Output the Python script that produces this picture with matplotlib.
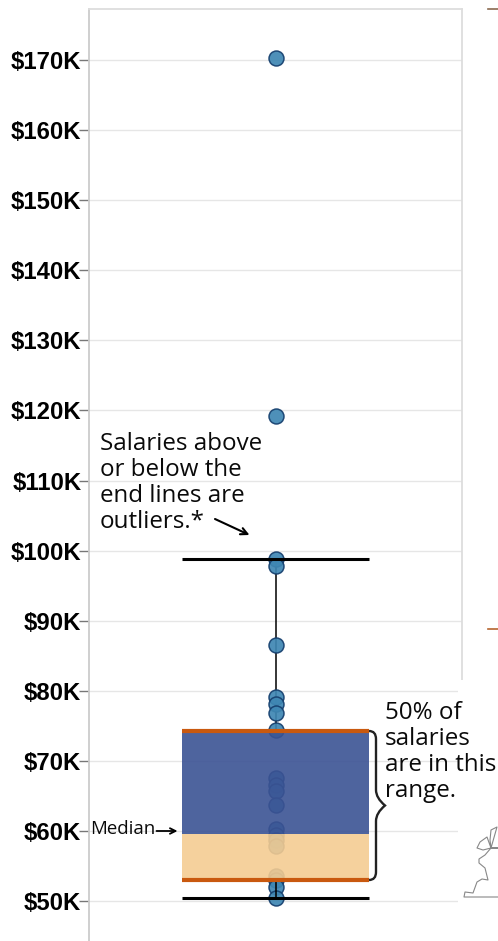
import matplotlib
matplotlib.use('Agg')
import matplotlib.pyplot as plt
from matplotlib.path import Path
from matplotlib.patches import PathPatch, Rectangle

# salaries in $K
salaries = [170.2, 119.2, 98.8, 97.85, 86.5, 79.2, 78.1, 76.9, 74.4, 67.6, 66.6, 65.7,
            63.7, 60.4, 59.5, 58.8, 57.9, 53.7, 53.0, 52.1, 50.5]
q1 = 53.0
median = 59.6
q3 = 74.3
whisker_low = 50.5
whisker_high = 98.8
ticks = [50, 60, 70, 80, 90, 100, 110, 120, 130, 140, 150, 160, 170]

# bits of the neighbouring panel that show at the right edge (pixels)
map_x = [498, 464, 465, 473, 477, 482, 488, 485, 479, 479, 485, 491, 498, 491, 490, 491, 497, 491, 487, 480, 477, 483, 491]
map_y = [897, 897, 892, 893, 882, 879, 880, 868, 863, 859, 855, 848, 848, 848, 840, 830, 827, 848, 837, 842, 848, 850, 848]

W, H = 498, 941
fig = plt.figure(figsize=(W / 100, H / 100), dpi=100)
ax = fig.add_axes([89 / W, 0, (462 - 89) / W, (941 - 9) / H])
ax.set_xlim(-1, 1)
ax.set_ylim(44.37, 177.2)

ax.set_yticks(ticks)
ax.set_yticklabels([f'${t}K' for t in ticks], fontfamily='Liberation Sans', fontweight='bold', fontsize=17.2)
ax.set_xticks([])
ax.tick_params(axis='y', length=7, width=1, color='#777777', pad=-1.5)
ax.grid(axis='y', color='#e6e6e6', lw=1.0, zorder=0)
ax.set_axisbelow(True)
for s in ['top', 'right']:
    ax.spines[s].set_color('#dddddd')
    ax.spines[s].set_linewidth(1.3)
ax.spines['bottom'].set_visible(False)
ax.spines['left'].set_color('#cccccc')
ax.spines['left'].set_linewidth(1.3)

# whisker and dots
ax.plot([0, 0], [whisker_low, q1], color='black', lw=1.1, zorder=4)
ax.plot([0, 0], [q3, whisker_high], color='black', lw=1.1, zorder=2)
ax.scatter([0] * len(salaries), salaries, s=116, color='#3f87b3', edgecolor='#153f6e',
           linewidth=1.1, alpha=0.92, zorder=3, clip_on=False)

# box
ax.bar(0, median - q1, width=1.0, bottom=q1, color='#f4cc92', alpha=0.9, zorder=4)
ax.bar(0, q3 - median, width=1.0, bottom=median, color='#3b5394', alpha=0.9, zorder=4)
ax.plot([-0.5, 0.5], [q1, q1], color='#c9590f', lw=3, solid_capstyle='butt', zorder=5)
ax.plot([-0.5, 0.5], [q3, q3], color='#c9590f', lw=3, solid_capstyle='butt', zorder=5)
ax.plot([-0.5, 0.5], [whisker_low, whisker_low], color='black', lw=2.2, solid_capstyle='butt', zorder=5)
ax.plot([-0.5, 0.5], [whisker_high, whisker_high], color='black', lw=2.2, solid_capstyle='butt', zorder=5)

# overlay in pixel coordinates for the annotations
ov = fig.add_axes([0, 0, 1, 1])
ov.set_xlim(0, W)
ov.set_ylim(H, 0)
ov.axis('off')
ov.patch.set_alpha(0)

# white panel over the right side
ov.add_patch(Rectangle((458, 680), 40, 261, color='white', lw=0, zorder=1))
ov.plot([488, 498], [9, 9], color='#8a6a50', lw=1.2, zorder=2)
ov.plot([488, 498], [628.5, 628.5], color='#b5652f', lw=1.2, zorder=2)
ov.plot(map_x, map_y, color='#888888', lw=0.8, zorder=2)

fnt = 'Open Sans'
ink = '#0a0a0a'
ov.text(100, 443.5, 'Salaries above', fontfamily=fnt, fontsize=17.4, va='center', color=ink)
ov.text(100, 469.5, 'or below the', fontfamily=fnt, fontsize=17.4, va='center', color=ink)
ov.text(100, 495.5, 'end lines are', fontfamily=fnt, fontsize=17.4, va='center', color=ink)
ov.text(100, 521.5, 'outliers.*', fontfamily=fnt, fontsize=17.4, va='center', color=ink)
ov.annotate('', xy=(249.5, 535), xytext=(215, 519),
            arrowprops=dict(arrowstyle='->', lw=1.5, color='black', mutation_scale=12, shrinkA=0, shrinkB=0))

ov.text(385, 713, '50% of', fontfamily=fnt, fontsize=17.4, va='center', color=ink)
ov.text(385, 739, 'salaries', fontfamily=fnt, fontsize=17.4, va='center', color=ink)
ov.text(385, 765, 'are in this', fontfamily=fnt, fontsize=17.4, va='center', color=ink)
ov.text(385, 791, 'range.', fontfamily=fnt, fontsize=17.4, va='center', color=ink)

ov.text(90, 829.5, 'Median', fontfamily=fnt, fontsize=13.4, va='center', color=ink)
ov.annotate('', xy=(177.5, 831), xytext=(156.5, 831),
            arrowprops=dict(arrowstyle='->', lw=1.3, color='black', mutation_scale=10, shrinkA=0, shrinkB=0))

# curly brace
brace = Path([(369, 731), (376, 731), (376, 739), (376, 790), (376, 798), (385, 805.5),
              (376, 813), (376, 821), (376, 872), (376, 880), (369, 880)],
             [Path.MOVETO, Path.CURVE3, Path.CURVE3, Path.LINETO, Path.CURVE3, Path.CURVE3,
              Path.CURVE3, Path.CURVE3, Path.LINETO, Path.CURVE3, Path.CURVE3])
ov.add_patch(PathPatch(brace, fc='none', ec='#222222', lw=1.7, zorder=3))

fig.savefig('out.png', dpi=100)
